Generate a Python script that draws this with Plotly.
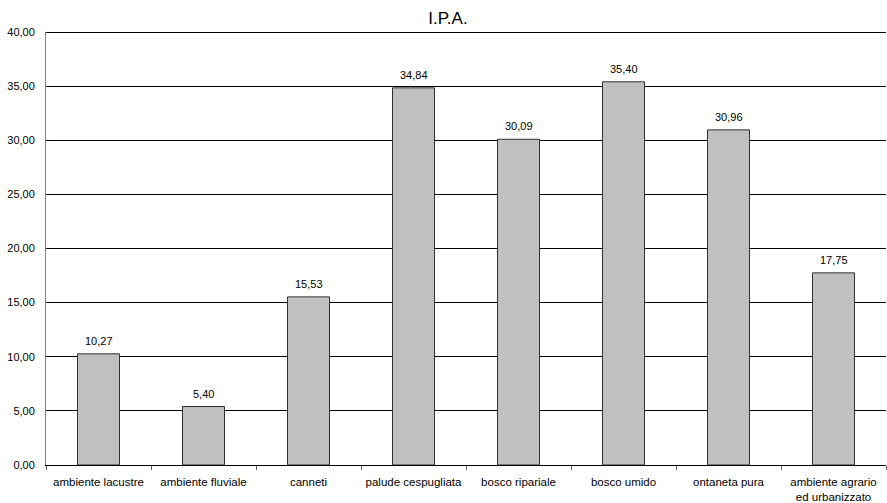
import plotly.graph_objects as go

categories = [
    "ambiente lacustre",
    "ambiente fluviale",
    "canneti",
    "palude cespugliata",
    "bosco ripariale",
    "bosco umido",
    "ontaneta pura",
    "ambiente agrario<br>ed urbanizzato",
]
values = [10.27, 5.40, 15.53, 34.84, 30.09, 35.40, 30.96, 17.75]
y_ticks = [0, 5, 10, 15, 20, 25, 30, 35, 40]
y_tick_labels = [f"{v:.2f}".replace(".", ",") for v in y_ticks]
value_labels = [f"{v:.2f}".replace(".", ",") for v in values]

font_family = "Liberation Sans, Arial, sans-serif"

fig = go.Figure(
    go.Bar(
        x=categories,
        y=values,
        width=0.4,
        marker=dict(color="#c0c0c0", line=dict(color="#303030", width=1)),
        showlegend=False,
    )
)

# value labels a few pixels above each bar
for cat, val, lab in zip(categories, values, value_labels):
    fig.add_annotation(
        x=cat,
        y=val,
        text=lab,
        showarrow=False,
        yanchor="bottom",
        yshift=5,
        font=dict(family=font_family, size=11, color="black"),
    )

fig.update_layout(
    width=887,
    height=503,
    margin=dict(l=46, r=1, t=32, b=38),
    paper_bgcolor="white",
    plot_bgcolor="white",
    showlegend=False,
    title=dict(
        text="I.P.A.",
        xref="container",
        x=0.505,
        xanchor="center",
        y=0.965,
        yanchor="middle",
        font=dict(family=font_family, size=17, color="black"),
    ),
    font=dict(family=font_family, size=11, color="black"),
)

fig.update_xaxes(
    showline=True,
    linecolor="black",
    linewidth=1,
    tickson="boundaries",
    ticks="outside",
    ticklen=4,
    tickcolor="#606060",
    showgrid=False,
    tickangle=0,
    automargin=False,
    ticklabelstandoff=6,
    tickfont=dict(family=font_family, size=11.5, color="black"),
)

fig.update_yaxes(
    range=[0, 40],
    tickvals=y_ticks,
    ticktext=y_tick_labels,
    showline=True,
    linecolor="#808080",
    linewidth=1,
    showgrid=True,
    gridcolor="black",
    gridwidth=1,
    zeroline=False,
    ticks="",
    automargin=False,
    ticklabelstandoff=8,
    tickfont=dict(family=font_family, size=11, color="black"),
)

fig.add_hline(y=40, line=dict(color="black", width=2))

fig.write_html("out.html")
